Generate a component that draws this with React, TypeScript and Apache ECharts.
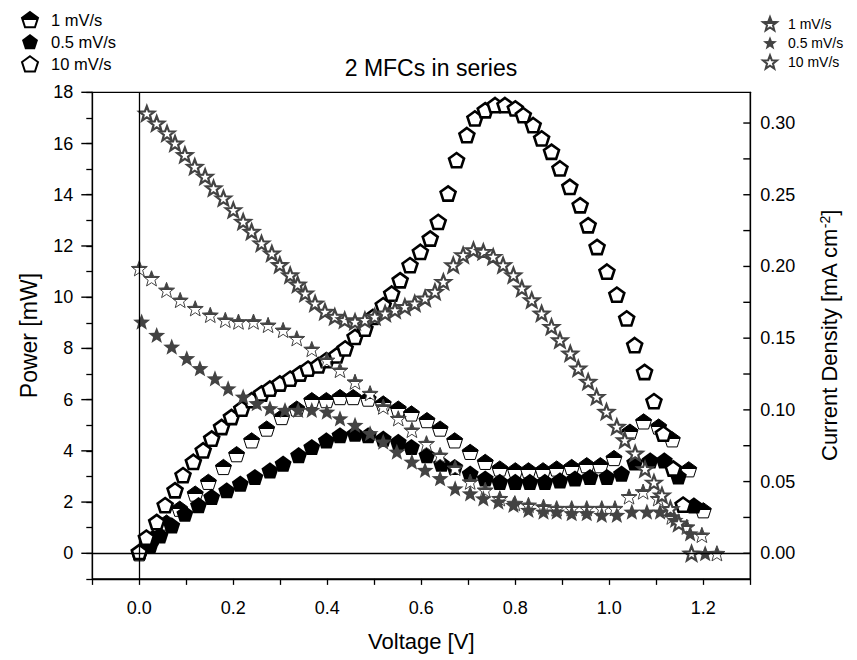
import React, { useEffect, useRef } from "react";
import * as echarts from "echarts";

// ---------- DATA ----------
// Power, 1 mV/s (half-filled pentagons)
const voltsP1 = [0, 0.029, 0.058, 0.086, 0.119, 0.147, 0.179, 0.207, 0.239, 0.271, 0.303, 0.335, 0.367, 0.398, 0.427, 0.455, 0.487, 0.519, 0.551, 0.579, 0.612, 0.64, 0.671, 0.704, 0.736, 0.767, 0.8, 0.828, 0.859, 0.888, 0.92, 0.952, 0.981, 1.01, 1.044, 1.073, 1.105, 1.134, 1.169, 1.2];
const powerP1 = [0.0, 0.6, 1.2, 1.74, 2.33, 2.79, 3.37, 3.87, 4.41, 4.87, 5.32, 5.65, 5.98, 5.98, 6.1, 6.1, 6.04, 5.85, 5.65, 5.46, 5.2, 4.87, 4.41, 3.96, 3.57, 3.31, 3.24, 3.24, 3.24, 3.31, 3.37, 3.44, 3.44, 3.72, 4.75, 5.15, 4.95, 4.45, 3.28, 1.68];
// Power, 0.5 mV/s (filled pentagons)
const voltsP05 = [0.001, 0.023, 0.044, 0.069, 0.097, 0.126, 0.154, 0.186, 0.215, 0.246, 0.278, 0.306, 0.339, 0.367, 0.398, 0.427, 0.459, 0.487, 0.519, 0.551, 0.579, 0.612, 0.643, 0.671, 0.704, 0.736, 0.767, 0.8, 0.831, 0.863, 0.895, 0.927, 0.959, 0.995, 1.026, 1.054, 1.087, 1.117, 1.147, 1.18];
const powerP05 = [0.05, 0.31, 0.7, 1.09, 1.55, 1.88, 2.2, 2.46, 2.72, 2.98, 3.24, 3.5, 3.83, 4.15, 4.41, 4.61, 4.67, 4.61, 4.48, 4.35, 4.15, 3.83, 3.5, 3.37, 3.11, 2.92, 2.79, 2.79, 2.79, 2.79, 2.85, 2.92, 2.98, 2.98, 3.11, 3.55, 3.63, 3.63, 3.0, 1.87];
// Power, 10 mV/s (hollow pentagons)
const voltsP10 = [0, 0.015, 0.037, 0.055, 0.076, 0.093, 0.115, 0.136, 0.154, 0.175, 0.196, 0.218, 0.239, 0.26, 0.278, 0.299, 0.321, 0.342, 0.359, 0.381, 0.398, 0.42, 0.438, 0.459, 0.48, 0.497, 0.519, 0.537, 0.555, 0.576, 0.598, 0.619, 0.636, 0.657, 0.675, 0.697, 0.714, 0.736, 0.757, 0.778, 0.8, 0.817, 0.838, 0.856, 0.877, 0.895, 0.916, 0.938, 0.955, 0.974, 0.995, 1.016, 1.037, 1.054, 1.075, 1.095, 1.115, 1.136, 1.157];
const powerP10 = [0.05, 0.61, 1.22, 1.88, 2.46, 3.05, 3.57, 4.02, 4.48, 4.93, 5.32, 5.65, 5.98, 6.24, 6.43, 6.63, 6.82, 7.02, 7.21, 7.34, 7.54, 7.73, 8.0, 8.45, 8.77, 9.23, 9.69, 10.14, 10.66, 11.25, 11.77, 12.29, 12.94, 14.05, 15.35, 16.33, 16.98, 17.3, 17.5, 17.5, 17.37, 17.11, 16.72, 16.2, 15.68, 15.03, 14.31, 13.59, 12.81, 11.96, 11.0, 10.1, 9.17, 8.13, 7.08, 5.94, 4.67, 3.31, 1.9];
// Current density, 1 mV/s (half-filled stars)
const voltsJ1 = [0, 0.026, 0.058, 0.087, 0.119, 0.151, 0.183, 0.211, 0.243, 0.274, 0.306, 0.335, 0.367, 0.399, 0.427, 0.459, 0.491, 0.519, 0.551, 0.58, 0.611, 0.64, 0.672, 0.704, 0.736, 0.767, 0.799, 0.828, 0.86, 0.888, 0.92, 0.952, 0.984, 1.012, 1.042, 1.072, 1.104, 1.133, 1.165, 1.197, 1.229];
const currentJ1 = [0.1987, 0.1917, 0.1836, 0.1766, 0.1708, 0.1662, 0.1627, 0.1615, 0.1615, 0.1592, 0.1557, 0.1499, 0.1424, 0.1348, 0.1278, 0.1196, 0.1116, 0.1022, 0.0941, 0.086, 0.0767, 0.0685, 0.0595, 0.0499, 0.0442, 0.0383, 0.0349, 0.0337, 0.0325, 0.0314, 0.0314, 0.0314, 0.0314, 0.0314, 0.0396, 0.043, 0.0383, 0.0255, 0.0185, 0.0128, 0.0];
// Current density, 0.5 mV/s (filled stars)
const voltsJ05 = [0.005, 0.037, 0.069, 0.101, 0.129, 0.161, 0.189, 0.221, 0.25, 0.278, 0.31, 0.338, 0.367, 0.399, 0.427, 0.459, 0.491, 0.519, 0.548, 0.58, 0.608, 0.64, 0.672, 0.704, 0.732, 0.764, 0.796, 0.828, 0.86, 0.888, 0.92, 0.952, 0.984, 1.016, 1.048, 1.08, 1.108, 1.14, 1.172, 1.204];
const currentJ05 = [0.1615, 0.1522, 0.1441, 0.136, 0.129, 0.122, 0.115, 0.1092, 0.1046, 0.1011, 0.0999, 0.0999, 0.0999, 0.0987, 0.0941, 0.0895, 0.0837, 0.0778, 0.0708, 0.0639, 0.0581, 0.0523, 0.0453, 0.0418, 0.0383, 0.036, 0.0337, 0.0302, 0.029, 0.029, 0.0279, 0.0279, 0.0267, 0.0267, 0.029, 0.029, 0.029, 0.0232, 0.0139, 0.0];
// Current density, 10 mV/s (hollow stars)
const voltsJ10 = [0.016, 0.037, 0.059, 0.076, 0.097, 0.118, 0.14, 0.158, 0.179, 0.2, 0.221, 0.239, 0.26, 0.282, 0.299, 0.321, 0.337, 0.353, 0.374, 0.395, 0.416, 0.437, 0.459, 0.48, 0.501, 0.523, 0.544, 0.565, 0.586, 0.608, 0.629, 0.647, 0.668, 0.689, 0.711, 0.732, 0.753, 0.774, 0.796, 0.814, 0.835, 0.856, 0.877, 0.895, 0.917, 0.934, 0.955, 0.973, 0.994, 1.016, 1.033, 1.055, 1.076, 1.095, 1.112, 1.13, 1.148, 1.175];
const currentJ10 = [0.3068, 0.2998, 0.2929, 0.2859, 0.2778, 0.2696, 0.2627, 0.2546, 0.2476, 0.2394, 0.2313, 0.2243, 0.2162, 0.2092, 0.2011, 0.194, 0.1875, 0.1813, 0.1743, 0.1685, 0.165, 0.1627, 0.1615, 0.1627, 0.165, 0.1673, 0.1696, 0.1719, 0.1743, 0.1778, 0.1824, 0.1894, 0.201, 0.208, 0.2115, 0.2103, 0.2068, 0.201, 0.194, 0.1848, 0.1766, 0.1673, 0.158, 0.1487, 0.1394, 0.129, 0.1197, 0.1092, 0.0988, 0.0883, 0.079, 0.0697, 0.0588, 0.0494, 0.0405, 0.031, 0.021, 0.0];

// Legend labels, axis extents and tick values
const rateLabels = ["1 mV/s", "0.5 mV/s", "10 mV/s"];
const voltageMin = -0.1;
const voltageMax = 1.3;
const powerMajorTicks = [0, 2, 4, 6, 8, 10, 12, 14, 16, 18];
const currentTicks = [0, 0.025, 0.05, 0.075, 0.1, 0.125, 0.15, 0.175, 0.2, 0.225, 0.25, 0.275, 0.3];
const currentLabels = [0, 0.05, 0.1, 0.15, 0.2, 0.25, 0.3];

// ---------- STYLE ----------
const FONT = '"Liberation Sans", Arial, Helvetica, sans-serif';
const PENTAGON = "path://M50,0L97.55,34.55L79.39,90.45L20.61,90.45L2.45,34.55Z";
const STAR = "path://M50,0L62.34,33.01L97.55,34.55L69.97,56.49L79.39,90.45L50,71L20.61,90.45L30.03,56.49L2.45,34.55L37.66,33.01Z";
const STAR_GRAY = "#434343";

const halfFill = (top: string, bottom: string) => ({
  type: "linear", x: 0, y: 0, x2: 0, y2: 1,
  colorStops: [
    { offset: 0, color: top }, { offset: 0.5, color: top },
    { offset: 0.5, color: bottom }, { offset: 1, color: bottom },
  ],
});

const zip = (xs: number[], ys: number[]) => xs.map((x, i) => [x, ys[i]]);

// custom series that draws tick marks at axis values through the cartesian coordinate system
const tickSeries = (yAxisIndex: number, xAt: number, values: number[], dx: number) => ({
  type: "custom",
  yAxisIndex,
  silent: true,
  z: 5,
  clip: false,
  data: values.map((v) => [xAt, v]),
  renderItem: (_params: any, api: any) => {
    const p = api.coord([api.value(0), api.value(1)]);
    return {
      type: "line",
      shape: { x1: p[0], y1: p[1], x2: p[0] + dx, y2: p[1] },
      style: { stroke: "#000", lineWidth: 1.4 },
    };
  },
});

export default function App() {
  const ref = useRef<HTMLDivElement>(null);

  useEffect(() => {
    document.body.style.margin = "0";
    if (!ref.current) return;
    const chart = echarts.init(ref.current, null, { renderer: "svg" });

    const axisLineStyle = { color: "#000", width: 1.3 };
    const labelStyle = { color: "#000", fontSize: 18, fontFamily: FONT };
    const nameStyle = { color: "#000", fontSize: 22, fontFamily: FONT };

    const option: any = {
      animation: false,
      backgroundColor: "#fff",
      title: {
        text: "2 MFCs in series", left: 431, textAlign: "center", top: 56, padding: 0,
        textStyle: { color: "#000", fontSize: 23, fontWeight: "normal", fontFamily: FONT },
      },
      grid: {
        left: 92.3, right: 106.7, top: 92.3, bottom: 81.1,
        show: true, borderColor: "#000", borderWidth: 1.3, backgroundColor: "transparent",
        outerBoundsMode: "none",
      },
      legend: [
        {
          data: rateLabels.map((r) => "P " + r), orient: "vertical", left: 16, top: 6,
          itemWidth: 16, itemHeight: 16, itemGap: 5, selectedMode: false,
          formatter: (n: string) => n.slice(2),
          textStyle: { color: "#000", fontSize: 16.5, fontFamily: FONT, padding: [0, 0, 0, 8] },
        },
        {
          data: rateLabels.map((r) => "J " + r), orient: "vertical", left: 757, top: 11,
          itemWidth: 14, itemHeight: 14, itemGap: 4.5, selectedMode: false,
          formatter: (n: string) => n.slice(2),
          textStyle: { color: "#000", fontSize: 14, fontFamily: FONT, padding: [0, 0, 0, 6] },
        },
      ],
      xAxis: {
        type: "value", min: voltageMin, max: voltageMax, interval: 0.1, position: "bottom",
        name: "Voltage [V]", nameLocation: "middle", nameGap: 52, nameTextStyle: nameStyle,
        axisLine: { show: true, onZero: false, lineStyle: axisLineStyle },
        axisTick: { show: true, inside: false, length: 6, lineStyle: axisLineStyle },
        axisLabel: {
          ...labelStyle, margin: 20,
          formatter: (v: number) => {
            const k = Math.round(v * 10);
            return k >= 0 && k % 2 === 0 ? (k / 10).toFixed(1) : "";
          },
        },
        splitLine: { show: false },
      },
      yAxis: [
        {
          type: "value", min: -1, max: 18, interval: 1, position: "left",
          name: "Power [mW]", nameLocation: "middle", nameGap: 52,
          nameTextStyle: { ...nameStyle, fontSize: 23 },
          axisLine: { show: true, onZero: false, lineStyle: axisLineStyle },
          axisTick: { show: true, inside: false, length: 6, lineStyle: axisLineStyle },
          axisLabel: {
            ...labelStyle, margin: 19,
            formatter: (v: number) => {
              const k = Math.round(v);
              return k >= 0 && k % 2 === 0 ? String(k) : "";
            },
          },
          splitLine: { show: false },
        },
        {
          type: "value", min: -1 / 56, max: 18 / 56, position: "right",
          name: "Current Density [mA cm{sup|-2}]", nameLocation: "middle", nameGap: 68,
          nameTextStyle: {
            ...nameStyle,
            rich: { sup: { fontSize: 14, fontFamily: FONT, color: "#000", verticalAlign: "top", padding: [0, 0, 8, 0] } },
          },
          axisLine: { show: true, onZero: false, lineStyle: axisLineStyle },
          axisTick: { show: false },
          axisLabel: { ...labelStyle, margin: 10, customValues: currentLabels, formatter: (v: number) => v.toFixed(2) },
          splitLine: { show: false },
        },
      ],
      series: [
        {
          name: "P 1 mV/s", type: "scatter", yAxisIndex: 0, symbol: PENTAGON, symbolKeepAspect: true, symbolSize: 16,
          itemStyle: { color: halfFill("#000", "#fff"), borderColor: "#000", borderWidth: 1, opacity: 1 },
          data: zip(voltsP1, powerP1),
          markLine: {
            silent: true, symbol: ["none", "none"], label: { show: false },
            lineStyle: { color: "#000", width: 1.3, type: "solid" },
            data: [{ xAxis: 0 }, { yAxis: 0 }],
          },
        },
        {
          name: "P 0.5 mV/s", type: "scatter", yAxisIndex: 0, symbol: PENTAGON, symbolKeepAspect: true, symbolSize: 17,
          itemStyle: { color: "#000", opacity: 1 }, data: zip(voltsP05, powerP05),
        },
        {
          name: "P 10 mV/s", type: "scatter", yAxisIndex: 0, symbol: PENTAGON, symbolKeepAspect: true, symbolSize: 15,
          itemStyle: { color: "#fff", borderColor: "#000", borderWidth: 2.6, opacity: 1 }, data: zip(voltsP10, powerP10),
        },
        {
          name: "J 1 mV/s", type: "scatter", yAxisIndex: 1, symbol: STAR, symbolKeepAspect: true, symbolSize: 16,
          itemStyle: { color: halfFill(STAR_GRAY, "#fff"), borderColor: STAR_GRAY, borderWidth: 1, opacity: 1 },
          data: zip(voltsJ1, currentJ1),
        },
        {
          name: "J 0.5 mV/s", type: "scatter", yAxisIndex: 1, symbol: STAR, symbolKeepAspect: true, symbolSize: 17,
          itemStyle: { color: STAR_GRAY, opacity: 1 }, data: zip(voltsJ05, currentJ05),
        },
        {
          name: "J 10 mV/s", type: "scatter", yAxisIndex: 1, symbol: STAR, symbolKeepAspect: true, symbolSize: 15,
          itemStyle: { color: "#fff", borderColor: STAR_GRAY, borderWidth: 2.2, opacity: 1 }, data: zip(voltsJ10, currentJ10),
        },
        { name: "current ticks", ...tickSeries(1, voltageMax, currentTicks, -7) },
        { name: "power major ticks", ...tickSeries(0, voltageMin, powerMajorTicks, -11) },
      ],
    };

    chart.setOption(option);
    return () => chart.dispose();
  }, []);

  return <div ref={ref} style={{ width: 857, height: 660, background: "#fff" }} />;
}
